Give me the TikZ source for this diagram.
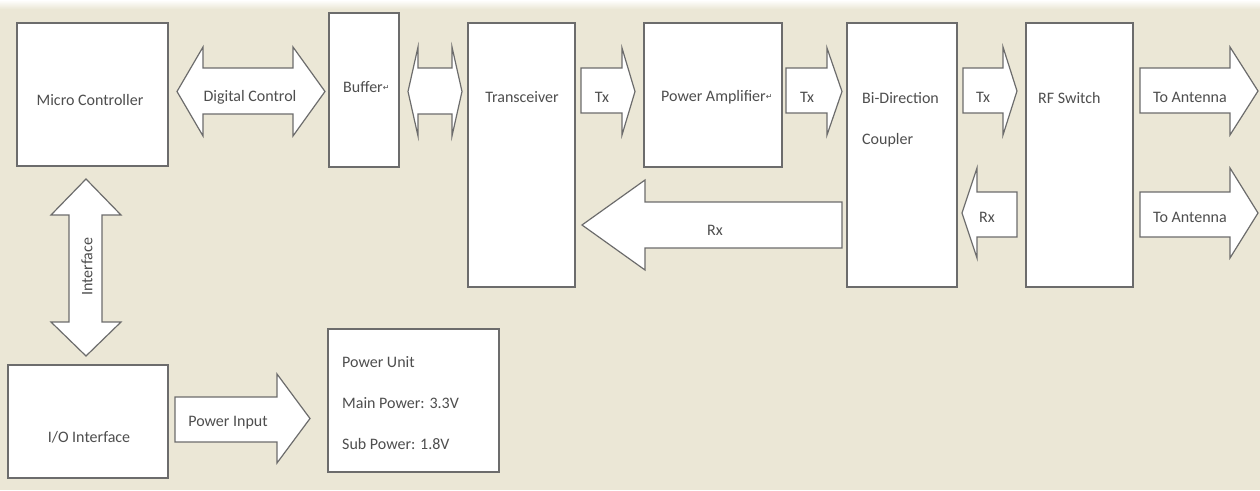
\documentclass[tikz,border=0pt]{standalone}
\usepackage{fontspec}
\setmainfont{Carlito}
\newfontfamily\symfont{DejaVu Sans}
\definecolor{bg}{RGB}{235,231,214}
\definecolor{edge}{RGB}{108,108,108}
\definecolor{txt}{RGB}{78,78,78}
% right/left single block arrow: x0, xbase, xtip, shaft-top, shaft-bottom, head-top, head-bottom
\newcommand{\RArrow}[7]{%
  \draw[blk] (#1,#4) -- (#2,#4) -- (#2,#6) -- (#3,{(#6+#7)/2}) -- (#2,#7) -- (#2,#5) -- (#1,#5) -- cycle;}
% horizontal double block arrow: xl, xbl, xbr, xr, shaft-top, shaft-bottom, head-top, head-bottom
\newcommand{\HDArrow}[8]{%
  \draw[blk] (#1,{(#7+#8)/2}) -- (#2,#7) -- (#2,#5) -- (#3,#5) -- (#3,#7) -- (#4,{(#7+#8)/2})
    -- (#3,#8) -- (#3,#6) -- (#2,#6) -- (#2,#8) -- cycle;}
% vertical double block arrow: yt, ybt, ybb, yb, shaft-left, shaft-right, head-left, head-right
\newcommand{\VDArrow}[8]{%
  \draw[blk] ({(#7+#8)/2},#1) -- (#8,#2) -- (#6,#2) -- (#6,#3) -- (#8,#3) -- ({(#7+#8)/2},#4)
    -- (#7,#3) -- (#5,#3) -- (#5,#2) -- (#7,#2) -- cycle;}
% block: name, x1, y1, x2, y2
\newcommand{\Block}[5]{%
  \node[box, minimum width={#4-#2}, minimum height={#5-#3}] (#1) at ({(#2+#4)/2},{(#3+#5)/2}) {};}
\newcommand{\brk}{{\symfont\fontsize{8}{8}\selectfont\raisebox{2pt}{↵}}}
\begin{document}
\begin{tikzpicture}[x=1pt,y=-1pt,
  box/.style={draw=edge, line width=1.4pt, fill=white, inner sep=0pt, outer sep=0pt},
  blk/.style={draw=edge, line width=1.2pt, fill=white, line join=miter},
  lbl/.style={text=txt, font=\fontsize{16}{19}\selectfont, inner sep=0pt},
  lbll/.style={lbl, anchor=west}]
\fill[bg] (0,0) rectangle (1260,490);
\useasboundingbox (0,0) rectangle (1260,490);
\shade[top color=white, bottom color=bg] (0,0) rectangle (1260,9);

% blocks
\Block{mc}{17}{23}{168}{166}
\Block{buf}{329}{13}{399}{167}
\Block{trx}{468}{23}{575}{287}
\Block{pa}{644}{23}{782}{167}
\Block{cpl}{847}{23}{957}{287}
\Block{rfs}{1026}{23}{1133}{287}
\Block{io}{8}{365}{168}{478}
\Block{pu}{328}{329}{499}{472}

% block arrows
\HDArrow{177}{203}{293}{325}{68}{114}{47}{136}
\HDArrow{408}{418}{452}{462}{68}{114}{47}{136}
\RArrow{581}{622}{635}{68}{113}{48}{135}
\RArrow{786}{827}{842}{68}{113}{48}{135}
\RArrow{963}{1003}{1017}{68}{113}{47}{135}
\RArrow{1140}{1230}{1258}{68}{113}{47}{135}
\RArrow{1140}{1230}{1258}{192}{237}{168}{258}
\RArrow{1017}{977}{962}{192}{237}{168}{258}
\RArrow{842}{645}{582}{202}{248}{180}{270}
\VDArrow{179}{215}{322}{356}{69}{102}{51}{121}
\RArrow{175}{277}{310}{397}{442}{374}{463}

% labels
\node[lbl] (tmc) at (90,100) {Micro Controller};
\node[lbl] (tdc) at (250,97) {Digital Control};
\node[lbll] (tbuf) at (343,87) {Buffer\brk};
\node[lbl] (ttrx) at (522,97) {Transceiver};
\node[lbl] (ttx1) at (602,97) {Tx};
\node[lbll] (tpa) at (661,97) {Power Amplifier\brk};
\node[lbl] (ttx2) at (807,97) {Tx};
\node[lbl] (trx1) at (715,230) {Rx};
\node[lbll] (tcp1) at (862,98) {Bi-Direction};
\node[lbll] (tcp2) at (862,140) {Coupler};
\node[lbl] (ttx3) at (983,97) {Tx};
\node[lbl] (trx2) at (987,217) {Rx};
\node[lbll] (trf) at (1038,98) {RF Switch};
\node[lbl] (tant1) at (1190,97) {To Antenna};
\node[lbl] (tant2) at (1190,217) {To Antenna};
\node[lbl, rotate=90] (tif) at (87,267) {Interface};
\node[lbl] (tio) at (89,437) {I/O Interface};
\node[lbl] (tpi) at (228,423) {Power Input};
\node[lbll] (tpu1) at (342,362) {Power Unit};
\node[lbll] (tpu2) at (342,403) {Main Power: 3.3V};
\node[lbll] (tpu3) at (342,444) {Sub Power: 1.8V};
\end{tikzpicture}
\end{document}
